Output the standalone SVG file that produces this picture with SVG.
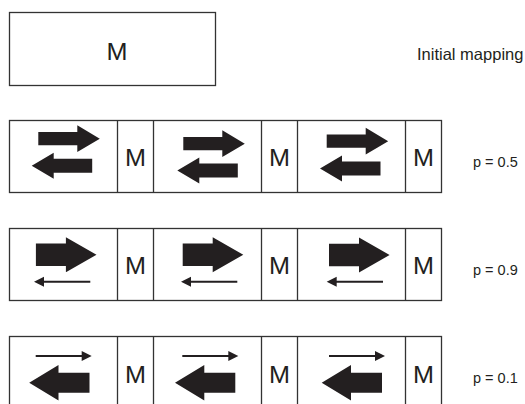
<svg xmlns="http://www.w3.org/2000/svg" width="525" height="404" viewBox="0 0 525 404">
  <style>
    .box { fill: #ffffff; stroke: #333333; stroke-width: 1.3; }
    .div { stroke: #333333; stroke-width: 1.3; }
    .arrow { fill: #231f20; }
    .thin { stroke: #231f20; stroke-width: 2; fill: none; }
    .m { font-family: "Liberation Sans", Arial, sans-serif; font-size: 23px; fill: #231f20; text-anchor: middle; }
    .lbl { font-family: "Liberation Sans", Arial, sans-serif; font-size: 14.5px; fill: #231f20; }
  </style>
  <defs>
    <!-- medium arrow, tail at origin, pointing right -->
    <path id="medR" d="M0,-6.6 H39 V-13.4 L61.5,0 L39,13.4 V6.6 H0 Z"/>
    <!-- medium arrow, tip at origin, pointing left -->
    <path id="medL" d="M0,0 L22,-13 V-7 H60.5 V7 H22 V13 Z"/>
    <!-- big arrow, tail at origin, pointing right -->
    <path id="bigR" d="M0,-11.3 H30 V-17.5 L60.6,0 L30,17.5 V11.3 H0 Z"/>
    <!-- big arrow, tip at origin, pointing left -->
    <path id="bigL" d="M0,0 L29.3,-17.8 V-10 H60.3 V10 H29.3 V17.8 Z"/>
    <!-- thin arrow, tip at origin, pointing left -->
    <g id="thinL">
      <line class="thin" x1="8" y1="0" x2="56.3" y2="0"/>
      <path d="M0,0 L10,-5 V5 Z"/>
    </g>
    <!-- thin arrow, tip at origin, pointing right -->
    <g id="thinR">
      <line class="thin" x1="-56" y1="0" x2="-8" y2="0"/>
      <path d="M0,0 L-10,-5 V5 Z"/>
    </g>
  </defs>

  <!-- initial mapping -->
  <g id="initial">
    <rect class="box" x="9.5" y="12.5" width="206" height="73"/>
    <text class="m" x="117" y="59.5" textLength="21" lengthAdjust="spacingAndGlyphs">M</text>
  </g>
  <text id="initial-label" class="lbl" x="417" y="59.5" style="font-size:16.5px">Initial mapping</text>

  <!-- p = 0.5 -->
  <g id="row-05">
    <rect class="box" x="9.5" y="120.5" width="432" height="72"/>
    <line class="div" x1="117.5" y1="120.5" x2="117.5" y2="192.5"/>
    <line class="div" x1="153.5" y1="120.5" x2="153.5" y2="192.5"/>
    <line class="div" x1="261.5" y1="120.5" x2="261.5" y2="192.5"/>
    <line class="div" x1="297.5" y1="120.5" x2="297.5" y2="192.5"/>
    <line class="div" x1="405.5" y1="120.5" x2="405.5" y2="192.5"/>
    <g class="arrow">
      <use href="#medR" x="38.3" y="138.7"/>
      <use href="#medL" x="31.7" y="165.7"/>
      <use href="#medR" x="183.3" y="143.7"/>
      <use href="#medL" x="177.3" y="170.5"/>
      <use href="#medR" x="326.7" y="141.2"/>
      <use href="#medL" x="320" y="168.5"/>
    </g>
    <text class="m" x="135.5" y="166" textLength="21" lengthAdjust="spacingAndGlyphs">M</text>
    <text class="m" x="279.5" y="166" textLength="21" lengthAdjust="spacingAndGlyphs">M</text>
    <text class="m" x="423.5" y="166" textLength="21" lengthAdjust="spacingAndGlyphs">M</text>
  </g>
  <text id="label-05" class="lbl" x="473" y="166.5">p = 0.5</text>

  <!-- p = 0.9 -->
  <g id="row-09">
    <rect class="box" x="9.5" y="228.5" width="432" height="72"/>
    <line class="div" x1="117.5" y1="228.5" x2="117.5" y2="300.5"/>
    <line class="div" x1="153.5" y1="228.5" x2="153.5" y2="300.5"/>
    <line class="div" x1="261.5" y1="228.5" x2="261.5" y2="300.5"/>
    <line class="div" x1="297.5" y1="228.5" x2="297.5" y2="300.5"/>
    <line class="div" x1="405.5" y1="228.5" x2="405.5" y2="300.5"/>
    <g class="arrow">
      <use href="#bigR" x="35.9" y="254.7"/>
      <use href="#thinL" x="34" y="281.8"/>
      <use href="#bigR" x="182.7" y="254.7"/>
      <use href="#thinL" x="181" y="281.8"/>
      <use href="#bigR" x="329" y="255"/>
      <use href="#thinL" x="326.7" y="281.8"/>
    </g>
    <text class="m" x="135.5" y="274" textLength="21" lengthAdjust="spacingAndGlyphs">M</text>
    <text class="m" x="279.5" y="274" textLength="21" lengthAdjust="spacingAndGlyphs">M</text>
    <text class="m" x="423.5" y="274" textLength="21" lengthAdjust="spacingAndGlyphs">M</text>
  </g>
  <text id="label-09" class="lbl" x="473" y="274.5">p = 0.9</text>

  <!-- p = 0.1 -->
  <g id="row-01">
    <rect class="box" x="9.5" y="336.5" width="432" height="72"/>
    <line class="div" x1="117.5" y1="336.5" x2="117.5" y2="408.5"/>
    <line class="div" x1="153.5" y1="336.5" x2="153.5" y2="408.5"/>
    <line class="div" x1="261.5" y1="336.5" x2="261.5" y2="408.5"/>
    <line class="div" x1="297.5" y1="336.5" x2="297.5" y2="408.5"/>
    <line class="div" x1="405.5" y1="336.5" x2="405.5" y2="408.5"/>
    <g class="arrow">
      <use href="#thinR" x="91.7" y="356"/>
      <use href="#bigL" x="29.2" y="382.7"/>
      <use href="#thinR" x="238.3" y="356"/>
      <use href="#bigL" x="175" y="382.7"/>
      <use href="#thinR" x="385" y="356"/>
      <use href="#bigL" x="321.7" y="382.7"/>
    </g>
    <text class="m" x="135.5" y="382.5" textLength="21" lengthAdjust="spacingAndGlyphs">M</text>
    <text class="m" x="279.5" y="382.5" textLength="21" lengthAdjust="spacingAndGlyphs">M</text>
    <text class="m" x="423.5" y="382.5" textLength="21" lengthAdjust="spacingAndGlyphs">M</text>
  </g>
  <text id="label-01" class="lbl" x="473" y="382.7">p = 0.1</text>
</svg>
